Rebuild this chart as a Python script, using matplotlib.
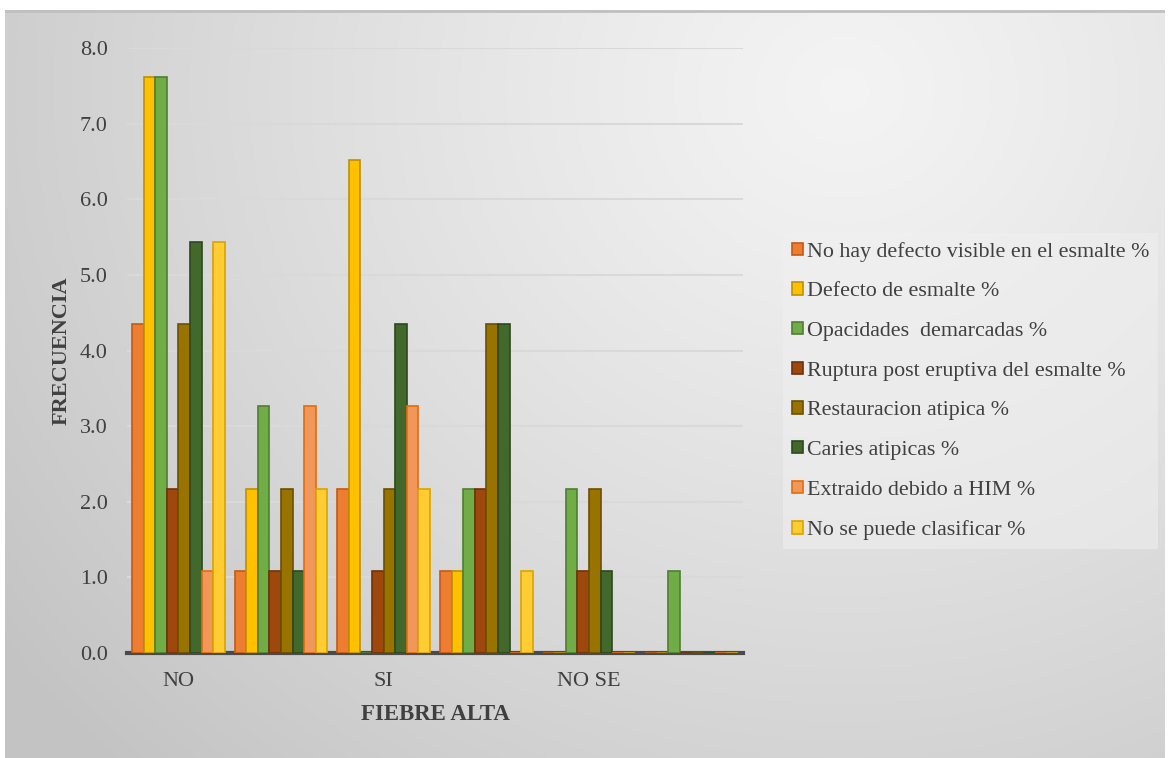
"""
Bar chart: FRECUENCIA de defectos de esmalte por FIEBRE ALTA.
"""

import numpy as np
import matplotlib
matplotlib.use('Agg')
import matplotlib.pyplot as plt
from matplotlib.ticker import FormatStrFormatter

# Data
categories = ['NO', '', 'SI', '', 'NO SE', '']

series_names = [
    'No hay defecto visible en el esmalte %',
    'Defecto de esmalte %',
    'Opacidades  demarcadas %',
    'Ruptura post eruptiva del esmalte %',
    'Restauracion atipica %',
    'Caries atipicas %',
    'Extraido debido a HIM %',
    'No se puede clasificar %',
]

no_defecto = [4.35, 1.09, 2.17, 1.09, 0.0, 0.0]
defecto = [7.61, 2.17, 6.52, 1.09, 0.0, 0.0]
opacidades = [7.61, 3.26, 0.0, 2.17, 2.17, 1.09]
ruptura = [2.17, 1.09, 1.09, 2.17, 1.09, 0.0]
restauracion = [4.35, 2.17, 2.17, 4.35, 2.17, 0.0]
caries = [5.43, 1.09, 4.35, 4.35, 1.09, 0.0]
extraido = [1.09, 3.26, 3.26, 0.0, 0.0, 0.0]
no_clasificar = [5.43, 2.17, 2.17, 1.09, 0.0, 0.0]

series_values = [no_defecto, defecto, opacidades, ruptura,
                 restauracion, caries, extraido, no_clasificar]

colors = ['#ED7D31', '#FFC000', '#70AD47', '#9E480E',
          '#997300', '#43682B', '#F1975A', '#FFCD33']
edge_colors = ['#C55A11', '#BF9000', '#507E32', '#6E320A',
               '#6B5000', '#2E481E', '#E46C0A', '#D9A300']

text_color = '#404040'
serif = ['Liberation Serif', 'DejaVu Serif']


def draw_background(fig):
    """Smooth grey gradient like the Excel chart area."""
    bg = fig.add_axes([5 / 1169, 0, 1160 / 1169, 748 / 758], zorder=-10)
    h, w = 748, 1160
    yy, xx = np.mgrid[0:h, 0:w]
    dist = np.sqrt((xx - 840) ** 2 + ((yy - 80) * 1.1) ** 2)
    t = np.clip(dist / 1050, 0, 1)
    shade = 0.955 - 0.19 * t ** 1.2
    rgb = np.dstack([shade, shade, shade])
    bg.imshow(rgb, aspect='auto', interpolation='bilinear')
    bg.set_axis_off()
    # thin top border
    bg.axhline(0, color='#c0c0c0', lw=2)


def main():
    fig = plt.figure(figsize=(11.69, 7.58), dpi=100)
    fig.patch.set_facecolor('white')
    draw_background(fig)

    ax = fig.add_axes([127 / 1169, 1 - 653 / 758, 616 / 1169, 605 / 758])
    ax.patch.set_alpha(0)

    x = np.arange(len(categories))
    n = len(series_values)
    width = 0.113
    for i, (name, vals) in enumerate(zip(series_names, series_values)):
        offset = (i - (n - 1) / 2) * width
        ax.bar(x + offset, vals, width=width, color=colors[i],
               edgecolor=edge_colors[i], linewidth=1.2, label=name, zorder=3)

    ax.set_xlim(-0.5, len(categories) - 0.5)
    ax.set_ylim(0, 8.0)
    ax.set_yticks(np.arange(0, 8.1, 1.0))
    ax.yaxis.set_major_formatter(FormatStrFormatter('%.1f'))
    ax.set_xticks(x)
    ax.set_xticklabels(categories)

    ax.grid(axis='y', color='#d9d9d9', lw=1.5, zorder=0)
    for side in ['top', 'right', 'left']:
        ax.spines[side].set_visible(False)
    ax.spines['bottom'].set_color('#4a4a4a')
    ax.spines['bottom'].set_linewidth(3)
    ax.spines['bottom'].set_zorder(2.5)
    ax.tick_params(length=0, labelsize=16, colors=text_color)
    ax.tick_params(axis='x', pad=14)
    ax.tick_params(axis='y', pad=14)
    for lbl in ax.get_xticklabels() + ax.get_yticklabels():
        lbl.set_family(serif)

    ax.set_xlabel('FIEBRE ALTA', fontsize=16.5, fontweight='bold',
                  family=serif, color=text_color, labelpad=9)
    ax.set_ylabel('FRECUENCIA', fontsize=16, fontweight='bold',
                  family=serif, color=text_color, labelpad=6)

    leg = fig.legend(loc='upper left', bbox_to_anchor=(772 / 1169, 1 - 222 / 758),
                     prop={'family': serif, 'size': 15.8}, frameon=True,
                     facecolor='#f0f0f0', edgecolor='none', framealpha=0.55,
                     fancybox=False, handlelength=0.5, handleheight=0.5,
                     handletextpad=0.2, labelspacing=0.94, borderpad=0.4)
    for txt in leg.get_texts():
        txt.set_color(text_color)

    fig.savefig('out.png', dpi=100)
    plt.close(fig)


if __name__ == '__main__':
    main()
